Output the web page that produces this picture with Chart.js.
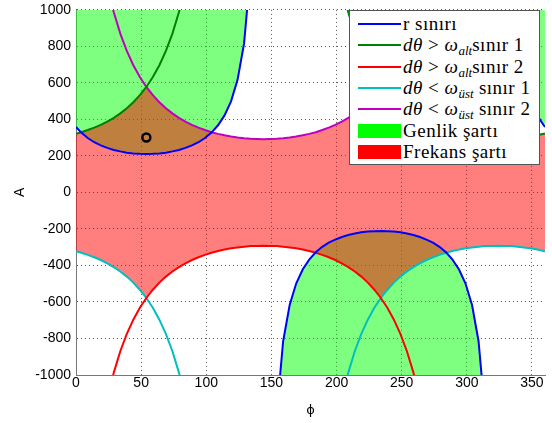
<!DOCTYPE html>
<html>
<head>
<meta charset="utf-8">
<script src="https://cdn.jsdelivr.net/npm/chart.js@4.4.0/dist/chart.umd.min.js"></script>
<style>
  body { margin: 0; background: #fff; }
  #wrap { position: relative; width: 552px; height: 423px; }
  #legend {
    position: absolute; left: 349px; top: 10px; width: 191px; height: 155px;
    box-sizing: border-box; border: 1px solid #555; background: #fff;
    font-family: 'Liberation Serif', 'DejaVu Serif', serif; font-size: 19px; color: #000;
  }
  .row { position: absolute; left: 0; width: 100%; height: 20px; }
  .ln { position: absolute; left: 8px; top: 9px; width: 43px; height: 2px; }
  .patch { position: absolute; left: 8px; top: 3px; width: 43px; height: 14px; }
  .tx { position: absolute; left: 53px; top: 0; line-height: 20px; white-space: nowrap; letter-spacing: 0.5px; }
  .tx sub { font-size: 13px; vertical-align: -4px; line-height: 0; letter-spacing: 0; }
</style>
</head>
<body>
<div id="wrap">
  <canvas id="chart" width="552" height="423"></canvas>
  <div id="legend">
    <div class="row" style="top:3px"><span class="ln" style="background:#0000ff"></span><span class="tx">r sınırı</span></div>
    <div class="row" style="top:24px"><span class="ln" style="background:#008000"></span><span class="tx"><i>dθ</i> &gt; <i>ω<sub>alt</sub></i>sınır 1</span></div>
    <div class="row" style="top:45.5px"><span class="ln" style="background:#ff0000"></span><span class="tx"><i>dθ</i> &gt; <i>ω<sub>alt</sub></i>sınır 2</span></div>
    <div class="row" style="top:67px"><span class="ln" style="background:#00bfbf"></span><span class="tx"><i>dθ</i> &lt; <i>ω<sub>üst</sub></i> sınır 1</span></div>
    <div class="row" style="top:88px"><span class="ln" style="background:#bf00bf"></span><span class="tx"><i>dθ</i> &lt; <i>ω<sub>üst</sub></i> sınır 2</span></div>
    <div class="row" style="top:109.5px"><span class="patch" style="background:#00ff00"></span><span class="tx">Genlik şartı</span></div>
    <div class="row" style="top:131px"><span class="patch" style="background:#ff0000"></span><span class="tx">Frekans şartı</span></div>
  </div>
</div>
<script>
const phi = [0, 4, 9, 14, 19, 24, 29, 34, 39, 44,
  49, 54, 59, 64, 69, 74, 79, 84, 89, 94,
  99, 104, 109, 114, 119, 124, 129, 134, 139, 144,
  149, 154, 159, 164, 169, 174, 179, 184, 189, 194,
  199, 204, 209, 214, 219, 224, 229, 234, 239, 244,
  249, 254, 259, 264, 269, 274, 279, 284, 289, 294,
  299, 304, 309, 314, 319, 324, 329, 334, 339, 344,
  349, 354, 359, 360];

// r sınırı (blue)
const rSiniri = [359, 328, 298, 275, 258, 244, 233, 225, 218, 214,
  212, 211, 212, 214, 218, 225, 233, 244, 258, 275,
  298, 328, 368, 422, 499, 617, 815, 1215, null, null,
  null, -1215, -815, -617, -499, -422, -368, -328, -298, -275,
  -258, -244, -233, -225, -218, -214, -212, -211, -212, -214,
  -218, -225, -233, -244, -258, -275, -298, -328, -368, -422,
  -499, -617, -815, -1215, null, null, null, 1215, 815, 617,
  499, 422, 368, 359];

// dθ > ω_alt sınır 1 (green)
const altSinir1 = [322, 330, 342, 355, 370, 388, 409, 433, 461, 494,
  533, 578, 632, 697, 775, 870, 987, 1134, null, null,
  null, null, null, null, null, null, null, null, null, null,
  null, null, null, null, null, null, null, null, null, null,
  null, 1134, 987, 870, 775, 697, 632, 578, 533, 494,
  461, 433, 409, 388, 370, 355, 342, 330, 321, 313,
  306, 301, 297, 294, 293, 292, 293, 294, 297, 301,
  306, 313, 321, 322];

// dθ > ω_alt sınır 2 (red)
const altSinir2 = [null, null, null, null, null, -1134, -987, -870, -775, -697,
  -632, -578, -533, -494, -461, -433, -409, -388, -370, -355,
  -342, -330, -321, -313, -306, -301, -297, -294, -293, -292,
  -293, -294, -297, -301, -306, -313, -321, -330, -342, -355,
  -370, -388, -409, -433, -461, -494, -533, -578, -632, -697,
  -775, -870, -987, -1134, null, null, null, null, null, null,
  null, null, null, null, null, null, null, null, null, null,
  null, null, null, null];

// dθ < ω_üst sınır 1 (cyan)
const ustSinir1 = [-322, -330, -342, -355, -370, -388, -409, -433, -461, -494,
  -533, -578, -632, -697, -775, -870, -987, -1134, null, null,
  null, null, null, null, null, null, null, null, null, null,
  null, null, null, null, null, null, null, null, null, null,
  null, -1134, -987, -870, -775, -697, -632, -578, -533, -494,
  -461, -433, -409, -388, -370, -355, -342, -330, -321, -313,
  -306, -301, -297, -294, -293, -292, -293, -294, -297, -301,
  -306, -313, -321, -322];

// dθ < ω_üst sınır 2 (magenta)
const ustSinir2 = [null, null, null, null, null, 1134, 987, 870, 775, 697,
  632, 578, 533, 494, 461, 433, 409, 388, 370, 355,
  342, 330, 321, 313, 306, 301, 297, 294, 293, 292,
  293, 294, 297, 301, 306, 313, 321, 330, 342, 355,
  370, 388, 409, 433, 461, 494, 533, 578, 632, 697,
  775, 870, 987, 1134, null, null, null, null, null, null,
  null, null, null, null, null, null, null, null, null, null,
  null, null, null, null];

// operating point (phi, A)
const nokta = [54, 301];

const xTicks = { min: 0, max: 360, step: 50 };
const yTicks = { min: -1000, max: 1000, step: 200 };

function points(vals) {
  return phi.map((p, i) => ({ x: p, y: vals[i] }));
}
function pick(a, b, fn) {
  const v = [a, b].filter(x => x !== null);
  return fn(...v);
}

// Genlik şartı: beyond the r boundary
const genlikUst = phi.map((p, i) => ({ x: p, y: rSiniri[i] !== null && rSiniri[i] > 0 ? rSiniri[i] : null }));
const genlikAlt = phi.map((p, i) => ({ x: p, y: rSiniri[i] !== null && rSiniri[i] < 0 ? rSiniri[i] : null }));
// Frekans şartı: between the lower and upper frequency bounds
const frekansUst = phi.map((p, i) => ({ x: p, y: pick(altSinir1[i], ustSinir2[i], Math.min) }));
const frekansAlt = phi.map((p, i) => ({ x: p, y: pick(altSinir2[i], ustSinir1[i], Math.max) }));

const none = 'rgba(0,0,0,0)';

function curve(vals, color) {
  return {
    data: points(vals),
    borderColor: color,
    borderWidth: 2,
    pointRadius: 0,
    fill: false,
    order: 1
  };
}
function area(data, fill, color, order) {
  return {
    data: data,
    fill: fill,
    backgroundColor: color,
    borderColor: none,
    borderWidth: 0,
    pointRadius: 0,
    order: order
  };
}

const tickFont = { family: 'Liberation Sans', size: 14 };

new Chart(document.getElementById('chart'), {
  type: 'line',
  data: {
    datasets: [
      curve(rSiniri, '#0000ff'),
      curve(altSinir1, '#008000'),
      curve(altSinir2, '#ff0000'),
      curve(ustSinir1, '#00bfbf'),
      curve(ustSinir2, '#bf00bf'),
      area(genlikUst, 'end', 'rgba(0,255,0,0.5)', 6),
      area(genlikAlt, 'start', 'rgba(0,255,0,0.5)', 6),
      area(frekansUst, '+1', 'rgba(255,0,0,0.5)', 5),
      area(frekansAlt, false, none, 5),
      {
        data: [{ x: nokta[0], y: nokta[1] }],
        showLine: false,
        pointRadius: 4,
        pointBorderWidth: 2.5,
        pointBorderColor: '#000',
        pointBackgroundColor: none,
        order: 0
      }
    ]
  },
  options: {
    responsive: false,
    devicePixelRatio: 1,
    animation: false,
    layout: { padding: { top: 5, right: 7, left: 0, bottom: 0 } },
    plugins: {
      legend: { display: false },
      tooltip: { enabled: false }
    },
    scales: {
      x: {
        type: 'linear',
        min: xTicks.min,
        max: xTicks.max,
        ticks: { stepSize: xTicks.step, includeBounds: false, padding: 0, color: '#000', font: tickFont, maxRotation: 0 },
        grid: { color: '#555', lineWidth: 1, drawTicks: false },
        border: { color: '#777', width: 1, dash: [1, 3] },
        title: { display: true, text: 'ϕ', color: '#000', font: { family: 'DejaVu Sans', size: 13 }, padding: { top: 0, bottom: 5 } },
        afterFit: s => { s.height = 48; }
      },
      y: {
        min: yTicks.min,
        max: yTicks.max,
        ticks: { stepSize: yTicks.step, padding: 5, color: '#000', font: { family: 'Liberation Sans', size: 14, lineHeight: 0.7 }, callback: v => String(v) },
        grid: { color: '#555', lineWidth: 1, drawTicks: false },
        border: { color: '#777', width: 1, dash: [1, 3] },
        title: { display: true, text: 'A', color: '#000', font: { family: 'Liberation Sans', size: 14 }, padding: { top: 12, bottom: 0 } },
        afterFit: s => { s.width = 76; }
      }
    }
  }
});
</script>
</body>
</html>
